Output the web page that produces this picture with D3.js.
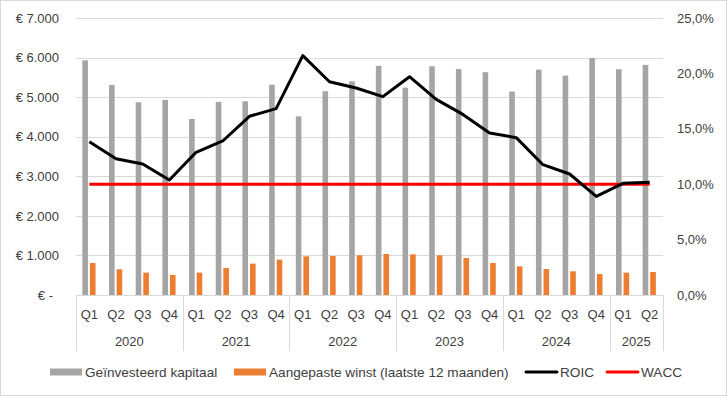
<!DOCTYPE html>
<html>
<head>
<meta charset="utf-8">
<script src="https://cdn.jsdelivr.net/npm/d3@7"></script>
<style>
  body { margin: 0; background: #fff; }
  svg { display: block; font-family: "Liberation Sans", Arial, sans-serif; }
  .tick text { fill: #404040; font-size: 13px; }
  .grid line { stroke: #d9d9d9; }
</style>
</head>
<body>
<div id="chart"></div>
<script>
const years = ['2020', '2021', '2022', '2023', '2024', '2025']
const quarters = [
  '2020 Q1', '2020 Q2', '2020 Q3', '2020 Q4',
  '2021 Q1', '2021 Q2', '2021 Q3', '2021 Q4',
  '2022 Q1', '2022 Q2', '2022 Q3', '2022 Q4',
  '2023 Q1', '2023 Q2', '2023 Q3', '2023 Q4',
  '2024 Q1', '2024 Q2', '2024 Q3', '2024 Q4',
  '2025 Q1', '2025 Q2'
]
const capital = [5930, 5310, 4870, 4930, 4450, 4880, 4895, 5315, 4515, 5150, 5400, 5790,
  5240, 5780, 5710, 5630, 5140, 5695, 5545, 5990, 5705, 5815]
const profit = [810, 650, 565, 505, 565, 682, 792, 893, 977, 985, 1002, 1036,
  1028, 1002, 935, 810, 724, 657, 598, 530, 565, 581]
const roic = [13.84, 12.3, 11.82, 10.38, 12.88, 13.9, 16.13, 16.82, 21.6, 19.25, 18.68, 17.9,
  19.7, 17.66, 16.3, 14.62, 14.2, 11.76, 10.92, 8.9, 10.08, 10.17]
const wacc = [10, 10, 10, 10, 10, 10, 10, 10, 10, 10, 10, 10,
  10, 10, 10, 10, 10, 10, 10, 10, 10, 10]
const euroTicks = [0, 1000, 2000, 3000, 4000, 5000, 6000, 7000]
const pctTicks = [0, 5, 10, 15, 20, 25]
const legendItems = ['Geïnvesteerd kapitaal', 'Aangepaste winst (laatste 12 maanden)', 'ROIC', 'WACC']

const width = 727
const height = 396
const plotLeft = 76, plotRight = 663, plotTop = 18, plotBottom = 295
const colors = { cap: '#a5a5a5', profit: '#ed7d31', roic: '#000000', wacc: '#ff0000' }

const svg = d3.select('#chart').append('svg').attr('width', width).attr('height', height)

svg.append('rect')
  .attr('x', 0.5).attr('y', 0.5)
  .attr('width', width - 1).attr('height', height - 1)
  .attr('fill', '#ffffff').attr('stroke', '#d9d9d9')

const x = d3.scaleBand().domain(quarters).range([plotLeft, plotRight])
const sub = d3.scaleBand().domain(['cap', 'profit']).range([-7, 6.2]).paddingInner(0.26)
const y = d3.scaleLinear().domain([0, 7000]).range([plotBottom, plotTop])
const y2 = d3.scaleLinear().domain([0, 25]).range([plotBottom, plotTop])

// gridlines
svg.append('g').attr('class', 'grid')
  .selectAll('line')
  .data(euroTicks.slice(1))
  .enter()
  .append('line')
  .attr('x1', plotLeft).attr('x2', plotRight)
  .attr('y1', d => Math.round(y(d)) + 0.5).attr('y2', d => Math.round(y(d)) + 0.5)

// left axis
const euroFmt = d => d === 0 ? '€ -' : '€ ' + d3.format(',')(d).replace(/,/g, '.')
const yAxis = svg.append('g')
  .attr('transform', 'translate(' + plotLeft + ',0)')
  .call(d3.axisLeft(y).tickValues(euroTicks).tickFormat(euroFmt).tickSize(0).tickPadding(17))
yAxis.select('.domain').remove()
yAxis.selectAll('.tick text').filter(d => d === 0).attr('x', -23)

// right axis
const pctFmt = d => d3.format('.1f')(d).replace('.', ',') + '%'
const y2Axis = svg.append('g')
  .attr('transform', 'translate(' + plotRight + ',0)')
  .call(d3.axisRight(y2).tickValues(pctTicks).tickFormat(pctFmt).tickSize(0).tickPadding(14))
y2Axis.select('.domain').remove()

// bars
const bars = svg.append('g').attr('class', 'bars')
bars.selectAll('.bar-cap')
  .data(capital)
  .enter()
  .append('rect')
  .attr('class', 'bar-cap')
  .attr('x', (d, i) => x(quarters[i]) + x.bandwidth() / 2 + sub('cap'))
  .attr('width', sub.bandwidth())
  .attr('y', d => y(d))
  .attr('height', d => y(0) - y(d))
  .attr('fill', colors.cap)

bars.selectAll('.bar-profit')
  .data(profit)
  .enter()
  .append('rect')
  .attr('class', 'bar-profit')
  .attr('x', (d, i) => x(quarters[i]) + x.bandwidth() / 2 + sub('profit'))
  .attr('width', sub.bandwidth())
  .attr('y', d => y(d))
  .attr('height', d => y(0) - y(d))
  .attr('fill', colors.profit)

// category axis
const axisG = svg.append('g').attr('class', 'cat-axis')
axisG.append('line')
  .attr('x1', plotLeft).attr('x2', plotRight)
  .attr('y1', plotBottom + 0.5).attr('y2', plotBottom + 0.5)
  .attr('stroke', '#d9d9d9')

const yearStart = years.map(yr => quarters.findIndex(q => q.startsWith(yr)))
const sepIdx = yearStart.concat([quarters.length])
axisG.selectAll('.sep')
  .data(sepIdx)
  .enter()
  .append('line')
  .attr('class', 'sep')
  .attr('x1', i => Math.round(i < quarters.length ? x(quarters[i]) : plotRight) + 0.5)
  .attr('x2', i => Math.round(i < quarters.length ? x(quarters[i]) : plotRight) + 0.5)
  .attr('y1', plotBottom).attr('y2', 351)
  .attr('stroke', '#d9d9d9')

axisG.selectAll('.qlabel')
  .data(quarters)
  .enter()
  .append('text')
  .attr('class', 'qlabel')
  .attr('x', d => x(d) + x.bandwidth() / 2)
  .attr('y', 314)
  .attr('dy', '0.35em')
  .attr('text-anchor', 'middle')
  .attr('font-size', 13)
  .attr('fill', '#404040')
  .text(d => d.split(' ')[1])

axisG.selectAll('.ylabel')
  .data(years)
  .enter()
  .append('text')
  .attr('class', 'ylabel')
  .attr('x', (d, i) => {
    const a = x(quarters[yearStart[i]])
    const b = i + 1 < years.length ? x(quarters[yearStart[i + 1]]) : plotRight
    return (a + b) / 2
  })
  .attr('y', 341.5)
  .attr('dy', '0.35em')
  .attr('text-anchor', 'middle')
  .attr('font-size', 13)
  .attr('fill', '#404040')
  .text(d => d)

// lines
const cx = (d, i) => x(quarters[i]) + x.bandwidth() / 2
svg.append('path')
  .datum(wacc)
  .attr('fill', 'none')
  .attr('stroke', colors.wacc)
  .attr('stroke-width', 3)
  .attr('d', d3.line().x(cx).y(d => y2(d)))

svg.append('path')
  .datum(roic)
  .attr('fill', 'none')
  .attr('stroke', colors.roic)
  .attr('stroke-width', 3)
  .attr('stroke-linejoin', 'round')
  .attr('d', d3.line().x(cx).y(d => y2(d)))

// legend
const legendPos = [50, 234, 525, 606]
const legend = svg.append('g').attr('class', 'legend')
legendItems.forEach((name, i) => {
  const g = legend.append('g').attr('transform', 'translate(' + legendPos[i] + ',372)')
  if (i < 2) {
    g.append('rect').attr('x', 0).attr('y', -3.5).attr('width', 32).attr('height', 7)
      .attr('fill', i === 0 ? colors.cap : colors.profit)
  } else {
    g.append('line').attr('x1', 1).attr('x2', 32).attr('y1', 0).attr('y2', 0)
      .attr('stroke', i === 2 ? colors.roic : colors.wacc).attr('stroke-width', 3)
      .attr('stroke-linecap', 'round')
  }
  g.append('text')
    .attr('x', 35)
    .attr('y', 0)
    .attr('dy', '0.35em')
    .attr('font-size', 13.6)
    .attr('fill', '#404040')
    .text(name)
})
</script>
</body>
</html>
